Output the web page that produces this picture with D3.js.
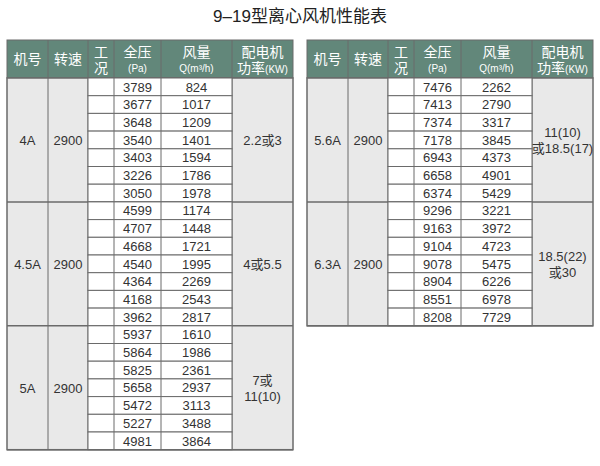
<!DOCTYPE html>
<html><head><meta charset="utf-8">
<script src="https://cdn.jsdelivr.net/npm/d3@7"></script>
<style>body{margin:0;background:#fff;font-family:"Liberation Sans","Noto Sans CJK SC",sans-serif}</style>
</head><body><div id="chart"></div>
<script>
(function () {
  let width = 600, height = 466;

  // groups: model, speed, power
  let models = ['4A', '4.5A', '5A', '5.6A', '6.3A'];
  let speeds = ['2900', '2900', '2900', '2900', '2900'];
  let powers = [['2.2或3'], ['4或5.5'], ['7或', '11(10)'], ['11(10)', '或18.5(17)'], ['18.5(22)', '或30']];
  let pressure = [
    [3789, 3677, 3648, 3540, 3403, 3226, 3050],
    [4599, 4707, 4668, 4540, 4364, 4168, 3962],
    [5937, 5864, 5825, 5658, 5472, 5227, 4981],
    [7476, 7413, 7374, 7178, 6943, 6658, 6374],
    [9296, 9163, 9104, 9078, 8904, 8551, 8208]
  ];
  let flow = [
    [824, 1017, 1209, 1401, 1594, 1786, 1978],
    [1174, 1448, 1721, 1995, 2269, 2543, 2817],
    [1610, 1986, 2361, 2937, 3113, 3488, 3864],
    [2262, 2790, 3317, 3845, 4373, 4901, 5429],
    [3221, 3972, 4723, 5475, 6226, 6978, 7729]
  ];
  let tables = [[0, 1, 2], [3, 4]];
  let colEdges = [0, 41, 81, 107, 154, 225, 286];

  let svg = d3.select('#chart').append('svg').attr('width', width).attr('height', height);

  svg.append('text').attr('x', 300).attr('y', 22).attr('text-anchor', 'middle')
    .style('font-size', '17px').attr('fill', '#222').text('9–19型离心风机性能表');

  let headTop = 40, headH = 38, rowH = 17.7;
  let headerColor = '#62877a', bodyColor = '#e9e9e9', line = '#6a6a6a';

  tables.forEach((groups, t) => {
    let x0 = t === 0 ? 7 : 307;
    let x = d3.scaleLinear().domain([0, 286]).range([x0, x0 + 286]);
    let nRows = d3.sum(groups, (g) => pressure[g].length);
    let y = d3.scaleLinear().domain([0, nRows]).range([headTop + headH, headTop + headH + nRows * rowH]);
    let g = svg.append('g');

    g.append('rect').attr('x', x(0)).attr('y', headTop).attr('width', x(286) - x(0)).attr('height', headH)
      .attr('fill', headerColor).attr('stroke', line);
    g.append('rect').attr('x', x(0)).attr('y', y(0)).attr('width', x(286) - x(0)).attr('height', y(nRows) - y(0))
      .attr('fill', bodyColor).attr('stroke', line).attr('stroke-width', 1.5);

    let heads = [['机号'], ['转速'], ['工', '况'], ['全压', '(Pa)'], ['风量', 'Q(m³/h)'], ['配电机', '功率(KW)']];
    heads.forEach((h, i) => {
      let cx = (x(colEdges[i]) + x(colEdges[i + 1])) / 2;
      if (i > 0) g.append('line').attr('x1', x(colEdges[i])).attr('x2', x(colEdges[i]))
        .attr('y1', headTop).attr('y2', y(nRows)).attr('stroke', line).attr('stroke-width', 1);
      let tx = g.append('text').attr('fill', '#fff').attr('text-anchor', 'middle');
      if (h.length === 1) {
        tx.attr('x', cx).attr('y', headTop + 24).style('font-size', '14px').text(h[0]);
      } else if (i === 2) {
        tx.append('tspan').attr('x', cx).attr('y', headTop + 17).style('font-size', '14px').text(h[0]);
        tx.append('tspan').attr('x', cx).attr('y', headTop + 33).style('font-size', '14px').text(h[1]);
      } else if (i === 5) {
        tx.append('tspan').attr('x', cx).attr('y', headTop + 17).style('font-size', '14px').text(h[0]);
        let t2 = g.append('text').attr('fill', '#fff').attr('text-anchor', 'middle').attr('x', cx).attr('y', headTop + 33);
        t2.append('tspan').style('font-size', '14px').text('功率');
        t2.append('tspan').style('font-size', '10px').text('(KW)');
      } else {
        tx.append('tspan').attr('x', cx).attr('y', headTop + 17).style('font-size', '14px').text(h[0]);
        tx.append('tspan').attr('x', cx).attr('y', headTop + 32).style('font-size', '10px').text(h[1]);
      }
    });

    let r = 0;
    groups.forEach((gi) => {
      let n = pressure[gi].length;
      let yTop = y(r), yBot = y(r + n), cy = (yTop + yBot) / 2;
      pressure[gi].forEach((p, k) => {
        let ry = y(r + k);
        g.append('rect').attr('x', x(colEdges[2])).attr('y', ry).attr('width', x(colEdges[5]) - x(colEdges[2]))
          .attr('height', rowH).attr('fill', '#fff').attr('stroke', line).attr('stroke-width', 1);
        [3, 4].forEach((c) => g.append('line').attr('x1', x(colEdges[c])).attr('x2', x(colEdges[c]))
          .attr('y1', ry).attr('y2', ry + rowH).attr('stroke', line));
        g.append('text').attr('x', (x(colEdges[3]) + x(colEdges[4])) / 2).attr('y', ry + 13.5)
          .attr('text-anchor', 'middle').style('font-size', '13px').attr('fill', '#333').text(p);
        g.append('text').attr('x', (x(colEdges[4]) + x(colEdges[5])) / 2).attr('y', ry + 13.5)
          .attr('text-anchor', 'middle').style('font-size', '13px').attr('fill', '#333').text(flow[gi][k]);
      });
      g.append('line').attr('x1', x(0)).attr('x2', x(286)).attr('y1', yBot).attr('y2', yBot)
        .attr('stroke', line).attr('stroke-width', 1.5);
      g.append('text').attr('x', (x(colEdges[0]) + x(colEdges[1])) / 2).attr('y', cy + 5)
        .attr('text-anchor', 'middle').style('font-size', '13px').attr('fill', '#333').text(models[gi]);
      g.append('text').attr('x', (x(colEdges[1]) + x(colEdges[2])) / 2).attr('y', cy + 5)
        .attr('text-anchor', 'middle').style('font-size', '13px').attr('fill', '#333').text(speeds[gi]);
      let pw = powers[gi];
      pw.forEach((s, k) => {
        g.append('text').attr('x', (x(colEdges[5]) + x(colEdges[6])) / 2)
          .attr('y', cy + 5 + (k - (pw.length - 1) / 2) * 16)
          .attr('text-anchor', 'middle').style('font-size', '13px').attr('fill', '#333').text(s);
      });
      r += n;
    });
  });
})();
</script></body></html>
